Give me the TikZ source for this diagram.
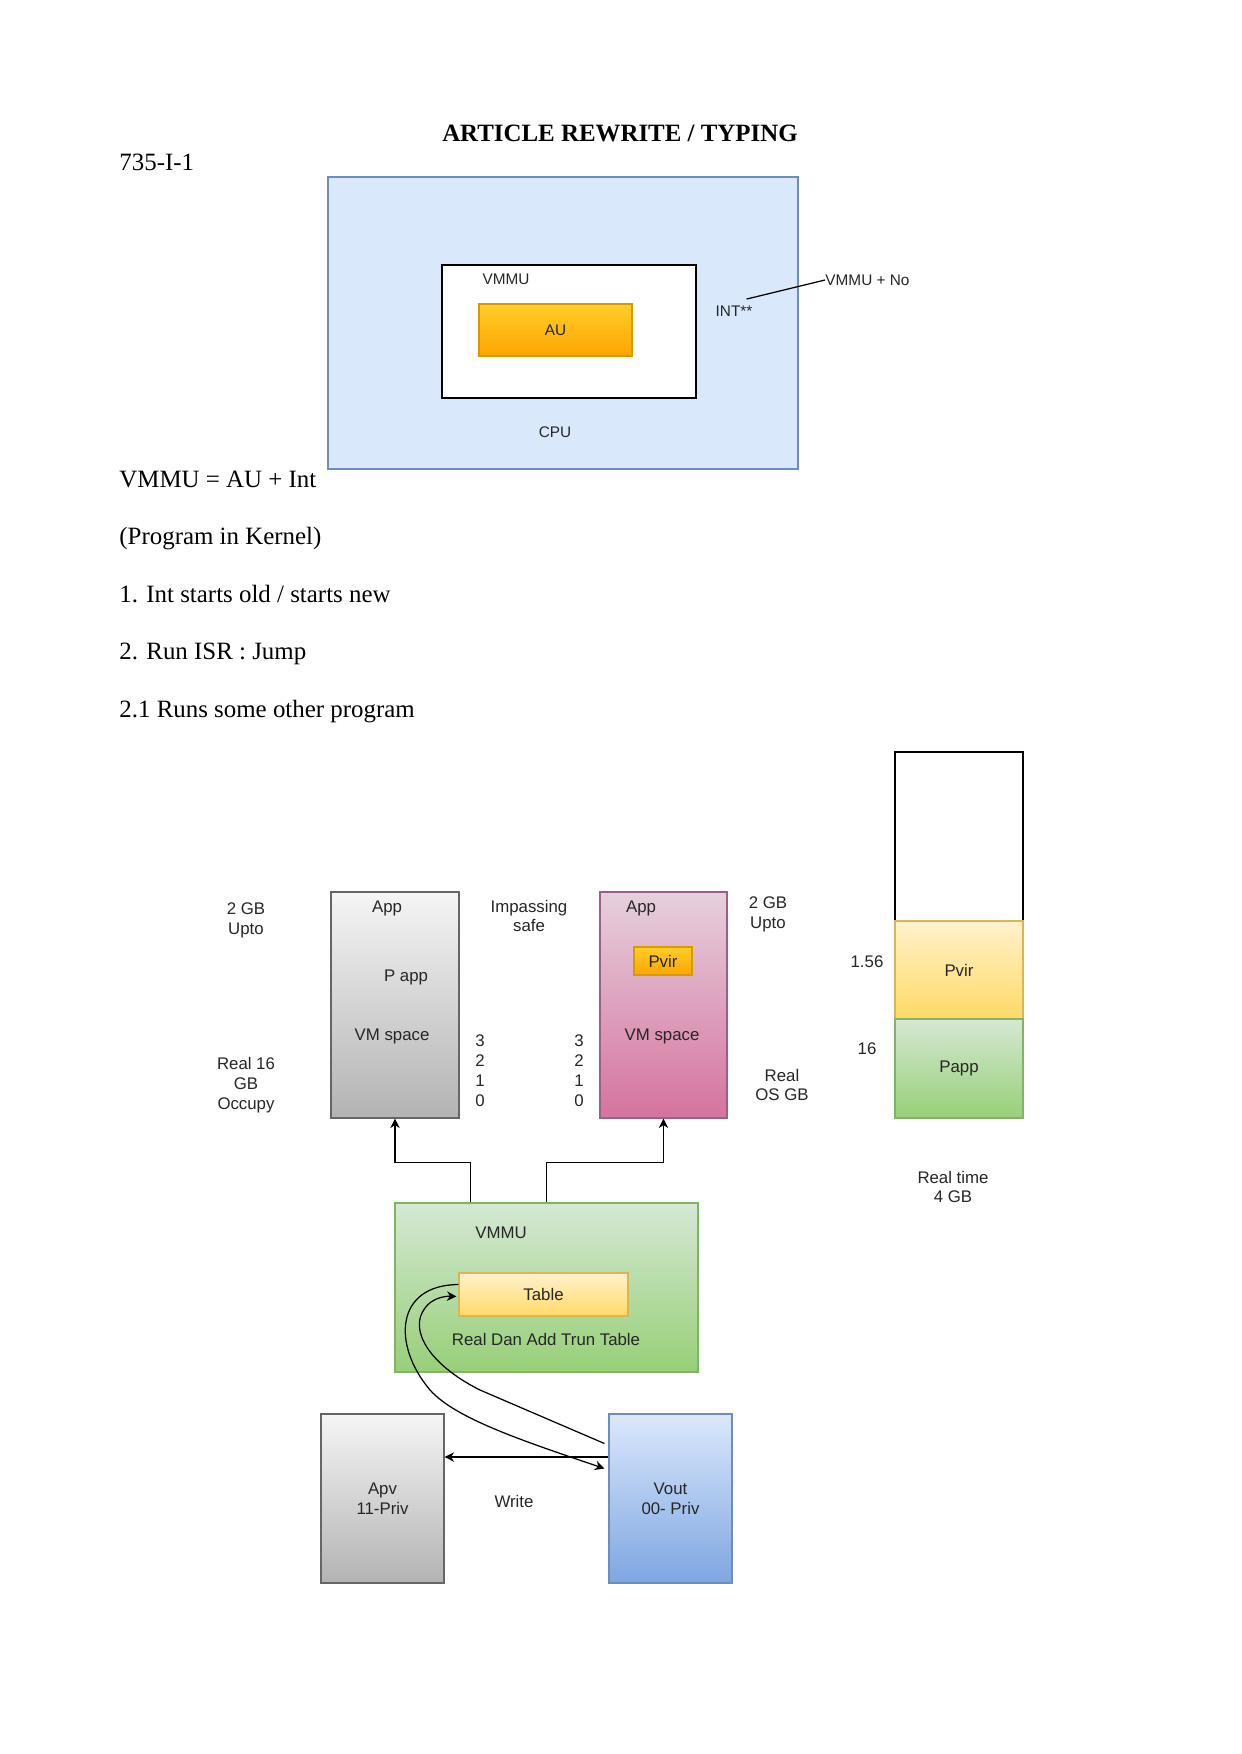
\documentclass[tikz,border=0pt]{standalone}
\usepackage{fontspec}
\setmainfont{Liberation Serif}
\newfontfamily\diagfont{Liberation Sans}
\usetikzlibrary{arrows.meta, positioning, calc}

\newlength{\px}
\setlength{\px}{0.16933mm}

\definecolor{cpufill}{HTML}{DAE8FC}
\definecolor{cpuline}{HTML}{6C8EBF}
\definecolor{orangetop}{HTML}{FFCD28}
\definecolor{orangebot}{HTML}{FFA500}
\definecolor{orangeline}{HTML}{D79B00}
\definecolor{graytop}{HTML}{F5F5F5}
\definecolor{graybot}{HTML}{B3B3B3}
\definecolor{grayline}{HTML}{666666}
\definecolor{pinktop}{HTML}{E6D0DE}
\definecolor{pinkbot}{HTML}{D5739D}
\definecolor{pinkline}{HTML}{996185}
\definecolor{yellowtop}{HTML}{FFF2CC}
\definecolor{yellowbot}{HTML}{FFD966}
\definecolor{yellowline}{HTML}{D6B656}
\definecolor{greentop}{HTML}{D5E8D4}
\definecolor{greenbot}{HTML}{97D077}
\definecolor{greenline}{HTML}{82B366}
\definecolor{bluebot}{HTML}{7EA6E0}

\begin{document}
\begin{tikzpicture}[
    x=\px, y=-\px,
    box/.style={rectangle, draw, line width=0.55pt, inner sep=0pt, align=center,
        text=black!85, font=\diagfont\fontsize{8.1}{9.6}\selectfont},
    cpubox/.style={box, fill=cpufill, draw=cpuline},
    orangebox/.style={box, top color=orangetop, bottom color=orangebot, draw=orangeline},
    graybox/.style={box, top color=graytop, bottom color=graybot, draw=grayline},
    pinkbox/.style={box, top color=pinktop, bottom color=pinkbot, draw=pinkline},
    yellowbox/.style={box, top color=yellowtop, bottom color=yellowbot, draw=yellowline},
    greenbox/.style={box, top color=greentop, bottom color=greenbot, draw=greenline},
    bluebox/.style={box, top color=cpufill, bottom color=bluebot, draw=cpuline},
    lbl/.style={inner sep=0pt, align=center, text=black!85, font=\diagfont\fontsize{8.1}{9.6}\selectfont},
    smalllbl/.style={lbl, font=\diagfont\fontsize{7.4}{9}\selectfont},
    pagetext/.style={anchor=base west, inner sep=0pt, font=\fontsize{12}{14}\selectfont},
    arrow/.style={-{Stealth[length=1.6mm, width=1.6mm, inset=0.5mm]}, line width=0.6pt},
    line/.style={line width=0.6pt}
]
\useasboundingbox (0,0) rectangle (1241,1754);

% Page text
\node[pagetext, anchor=base] (title) at (620,141) {\bfseries ARTICLE REWRITE / TYPING};
\node[pagetext] (code) at (119,170) {735-I-1};
\node[pagetext] (eq) at (119,487) {VMMU = AU + Int};
\node[pagetext] (kernel) at (119,544) {(Program in Kernel)};
\node[pagetext] (step1) at (119,602) {1. Int starts old / starts new};
\node[pagetext] (step2) at (119,659) {2. Run ISR : Jump};
\node[pagetext] (step21) at (119,717) {2.1 Runs some other program};

% CPU diagram
\node[cpubox, minimum width=470\px, minimum height=292\px] (cpu) at (563,323) {};
\node[box, fill=white, draw=black, minimum width=254\px, minimum height=133\px] (vmmu) at (569,331.5) {};
\node[orangebox, minimum width=153\px, minimum height=52\px, font=\diagfont\fontsize{7.4}{9}\selectfont] (au) at (555.5,330) {AU};
\node[smalllbl] (vmmulbl) at (506,279) {VMMU};
\node[smalllbl] (cpulbl) at (555,432) {CPU};
\node[smalllbl] (intlbl) at (734,311) {INT**};
\node[smalllbl, anchor=west] (note) at (825,280) {VMMU + No};
\draw[line] ([xshift=-3pt, yshift=3pt]intlbl.north east) -- (note.west);

% Virtual machines
\node[graybox, minimum width=128\px, minimum height=226\px] (vm1) at (395,1005) {};
\node[pinkbox, minimum width=127\px, minimum height=226\px] (vm2) at (663.5,1005) {};
\node[orangebox, minimum width=58\px, minimum height=28\px] (pvirsmall) at (663,961) {Pvir};
\node[lbl] (vm1app) at (387,908) {App};
\node[lbl] (vm1papp) at (406,977) {P app};
\node[lbl] (vm1space) at (392,1036) {VM space};
\node[lbl] (vm2app) at (641,908) {App};
\node[lbl] (vm2space) at (662,1036) {VM space};
\node[lbl] (uptoleft) at (246,920) {2 GB\\Upto};
\node[lbl] (occupy) at (246,1085) {Real 16\\GB\\Occupy};
\node[lbl] (impass) at (529,916) {Impassing\\safe};
\node[lbl] (idxleft) at (480,1071) {3\\2\\1\\0};
\node[lbl] (idxright) at (579,1071) {3\\2\\1\\0};
\node[lbl] (uptoright) at (768,914) {2 GB\\Upto};
\node[lbl] (realos) at (782,1085) {Real\\OS GB};

% Real memory column
\node[box, fill=white, draw=black, minimum width=128\px, minimum height=169\px] (memfree) at (959,836.5) {};
\node[yellowbox, minimum width=128\px, minimum height=98\px] (mempvir) at (959,970) {Pvir};
\node[greenbox, minimum width=128\px, minimum height=99\px] (mempapp) at (959,1068.5) {Papp};
\node[lbl] (n156) at (867,962) {1.56};
\node[lbl] (n16) at (867,1049) {16};
\node[lbl] (realtime) at (953,1187) {Real time\\4 GB};

% VMMU with table
\node[greenbox, minimum width=303\px, minimum height=169\px] (vmmu2) at (546.5,1287.5) {};
\node[yellowbox, minimum width=169\px, minimum height=43\px] (table) at (543.5,1294.5) {Table};
\node[lbl] (vmmu2lbl) at (501,1233) {VMMU};
\node[lbl] (realdan) at (546,1339) {Real Dan Add Trun Table};

% Privilege boxes
\node[graybox, minimum width=123\px, minimum height=169\px] (apv) at (382.5,1498.5) {Apv\\11-Priv};
\node[bluebox, minimum width=123\px, minimum height=169\px] (vout) at (670.5,1498.5) {Vout\\00- Priv};
\node[lbl] (write) at (514,1501) {Write};

% Connectors
\draw[arrow] ($(vmmu2.north west)+(76,0)$) |- ($(vm1.south)+(0,44)$) -- (vm1.south);
\draw[arrow] ($(vmmu2.north west)+(152,0)$) |- ($(vm2.south)+(0,44)$) -- (vm2.south);
\draw[arrow] ($(vout.west)+(0,-41.5)$) -- ($(apv.east)+(0,-41.5)$);
\draw[arrow] ($(table.west)+(0,-10)$) .. controls (395,1285) and (392,1345) .. (430,1390)
    .. controls (455,1418) and (520,1440) .. ($(vout.west)+(-4,-30)$);
\draw[arrow] ($(vout.west)+(-4,-55)$) -- (480,1390)
    .. controls (430,1365) and (408,1330) .. (425,1308)
    .. controls (432,1298) and (445,1296) .. ($(table.west)+(-2,2)$);

\end{tikzpicture}
\end{document}
